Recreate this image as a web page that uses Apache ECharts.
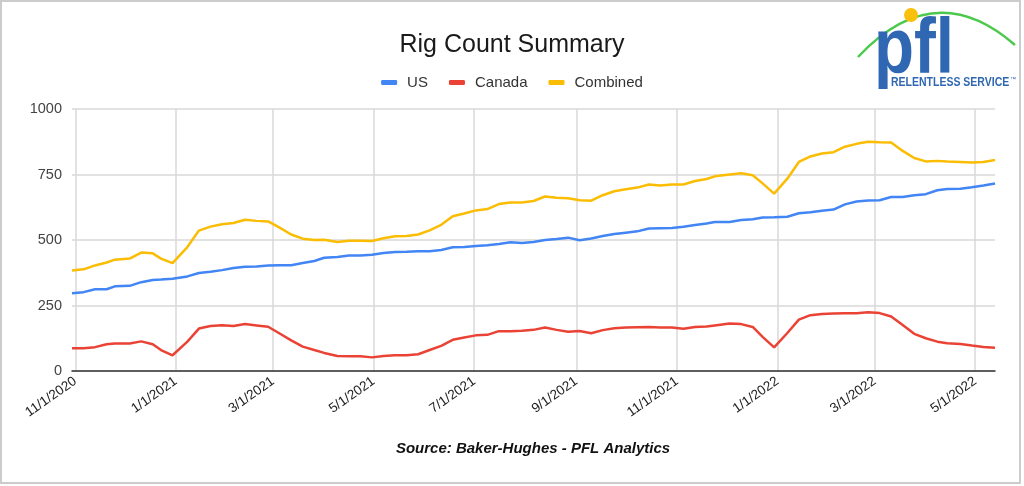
<!DOCTYPE html>
<html>
<head>
<meta charset="utf-8">
<script src="https://cdn.jsdelivr.net/npm/echarts@6/dist/echarts.min.js"></script>
<style>
html,body{margin:0;padding:0;background:#fff;}
#chart{width:1024px;height:486px;}
</style>
</head>
<body>
<div id="chart"></div>
<script>
// ---- data (weekly Baker-Hughes rig counts) ----
const dates = [
  '2020-10-30','2020-11-06','2020-11-13','2020-11-20','2020-11-25','2020-12-04','2020-12-11','2020-12-18','2020-12-23','2020-12-30',
  '2021-01-08','2021-01-15','2021-01-22','2021-01-29','2021-02-05','2021-02-12','2021-02-19','2021-02-26','2021-03-05','2021-03-12',
  '2021-03-19','2021-03-26','2021-04-01','2021-04-09','2021-04-16','2021-04-23','2021-04-30','2021-05-07','2021-05-14','2021-05-21',
  '2021-05-28','2021-06-04','2021-06-11','2021-06-18','2021-06-25','2021-07-02','2021-07-09','2021-07-16','2021-07-23','2021-07-30',
  '2021-08-06','2021-08-13','2021-08-20','2021-08-27','2021-09-03','2021-09-10','2021-09-17','2021-09-24','2021-10-01','2021-10-08',
  '2021-10-15','2021-10-22','2021-10-29','2021-11-05','2021-11-12','2021-11-19','2021-11-24','2021-12-03','2021-12-10','2021-12-17',
  '2021-12-23','2021-12-30','2022-01-07','2022-01-14','2022-01-21','2022-01-28','2022-02-04','2022-02-11','2022-02-18','2022-02-25',
  '2022-03-04','2022-03-11','2022-03-18','2022-03-25','2022-04-01','2022-04-08','2022-04-14','2022-04-22','2022-04-29','2022-05-06',
  '2022-05-13'
];
const us = [
  297,301,312,312,323,325,339,347,349,352,
  361,374,379,385,393,398,399,403,404,404,
  412,420,432,435,441,441,444,450,454,455,
  457,457,462,472,473,477,480,485,491,489,
  492,500,504,509,499,506,515,523,528,533,
  544,545,546,551,557,563,569,569,576,579,
  586,587,589,602,606,612,616,636,647,651,
  652,664,664,671,675,690,695,696,701,708,
  716
];
const canada = [
  87,87,91,102,105,105,113,102,80,60,
  112,162,172,175,172,179,174,169,143,117,
  93,80,69,57,56,56,52,57,60,60,
  64,80,96,119,128,136,138,152,152,154,
  157,166,157,150,153,144,156,163,166,167,
  168,166,166,161,168,170,174,181,179,168,
  130,90,145,196,213,218,219,220,220,224,
  221,208,176,142,125,112,106,103,97,92,
  89
];
const combined = [
  384,388,403,414,425,429,452,449,429,412,
  473,536,551,560,565,577,573,571,547,521,
  505,500,501,492,497,497,496,507,514,515,
  521,537,558,591,601,613,618,637,643,643,
  649,666,661,659,652,650,671,686,694,700,
  712,708,712,712,725,733,743,750,755,747,
  716,677,734,798,819,830,835,856,867,875,
  873,872,840,813,800,802,800,798,796,798,
  805
];
const seriesNames = ['US', 'Canada', 'Combined'];
const xTickDates = ['2020-11-01','2021-01-01','2021-03-01','2021-05-01','2021-07-01','2021-09-01','2021-11-01','2022-01-01','2022-03-01','2022-05-01'];
const yMin = 0, yMax = 1000, yStep = 250;

// ---- helpers ----
function ts(s) { const p = s.split('-').map(Number); return new Date(p[0], p[1] - 1, p[2]).getTime(); }
function fmt(v) { const d = new Date(v); return (d.getMonth() + 1) + '/' + d.getDate() + '/' + d.getFullYear(); }
const FONT = '"Liberation Sans", Arial, sans-serif';
const colors = ['#4285F4', '#EA4335', '#FBBC04'];
const values = [us, canada, combined];
const xTicks = xTickDates.map(ts);

const chart = echarts.init(document.getElementById('chart'), null, { renderer: 'canvas' });
chart.setOption({
  animation: false,
  backgroundColor: '#ffffff',
  title: {
    text: 'Rig Count Summary',
    left: 'center',
    top: 28,
    textStyle: { fontFamily: FONT, fontSize: 25, fontWeight: 'normal', color: '#1a1a1a' }
  },
  legend: {
    top: 70,
    left: 'center',
    icon: 'roundRect',
    itemWidth: 16,
    itemHeight: 5,
    itemGap: 21,
    data: seriesNames,
    textStyle: { fontFamily: FONT, fontSize: 15, color: '#333', padding: [0, 0, 0, 5] }
  },
  grid: { left: 72, right: 29, top: 109, bottom: 115, containLabel: false },
  xAxis: {
    type: 'value',
    min: ts(dates[0]),
    max: ts(dates[dates.length - 1]),
    axisLine: { show: true, lineStyle: { color: '#333', width: 1.5 } },
    axisTick: { show: false, customValues: xTicks },
    splitLine: { show: true, lineStyle: { color: '#d9d9d9', width: 1.5 } },
    axisLabel: {
      customValues: xTicks,
      rotate: 35,
      margin: 9,
      formatter: fmt,
      fontFamily: FONT,
      fontSize: 13.5,
      color: '#222'
    }
  },
  yAxis: {
    type: 'value',
    min: yMin,
    max: yMax,
    interval: yStep,
    axisLine: { show: false },
    axisTick: { show: false },
    splitLine: { show: true, lineStyle: { color: '#d9d9d9', width: 1.5 } },
    axisLabel: { fontFamily: FONT, fontSize: 14.5, color: '#444', margin: 10, formatter: v => String(v) }
  },
  series: seriesNames.map((name, i) => ({
    name: name,
    type: 'line',
    showSymbol: false,
    symbol: 'none',
    smooth: false,
    color: colors[i],
    lineStyle: { color: colors[i], width: 2.5 },
    data: dates.map((d, j) => [ts(d), values[i][j]])
  })),
  graphic: [
    { type: 'rect', silent: true, shape: { x: 1, y: 1, width: 1019, height: 482 },
      style: { fill: 'none', stroke: '#cccccc', lineWidth: 2 } },
    { type: 'bezierCurve', silent: true,
      shape: { x1: 858, y1: 57, cpx1: 935, cpy1: -25, x2: 1015, y2: 45 },
      style: { fill: 'none', stroke: '#4cc94c', lineWidth: 2.5 } },
    { type: 'text', silent: true, x: 874, y: 51, scaleX: 0.84,
      style: { text: 'pfl', x: 0, y: 0, align: 'left', verticalAlign: 'middle',
               font: 'bold 78px "Liberation Sans", Arial, sans-serif', fill: '#2f67b2' } },
    { type: 'circle', silent: true, shape: { cx: 911, cy: 15, r: 7 }, style: { fill: '#f9c10d' } },
    { type: 'text', silent: true, x: 891, y: 83, scaleX: 0.84,
      style: { text: 'RELENTLESS SERVICE', x: 0, y: 0, align: 'left', verticalAlign: 'middle',
               font: 'bold 12.5px "Liberation Sans", Arial, sans-serif', fill: '#2f67b2' } },
    { type: 'text', silent: true, x: 1010, y: 79,
      style: { text: '™', x: 0, y: 0, align: 'left', verticalAlign: 'middle',
               font: '6px "Liberation Sans", Arial, sans-serif', fill: '#2f67b2' } },
    { type: 'text', silent: true, x: 533, y: 449,
      style: { text: 'Source: Baker-Hughes - PFL Analytics', x: 0, y: 0, align: 'center', verticalAlign: 'middle',
               font: 'italic bold 15px "Liberation Sans", Arial, sans-serif', fill: '#111' } }
  ]
});
</script>
</body>
</html>
